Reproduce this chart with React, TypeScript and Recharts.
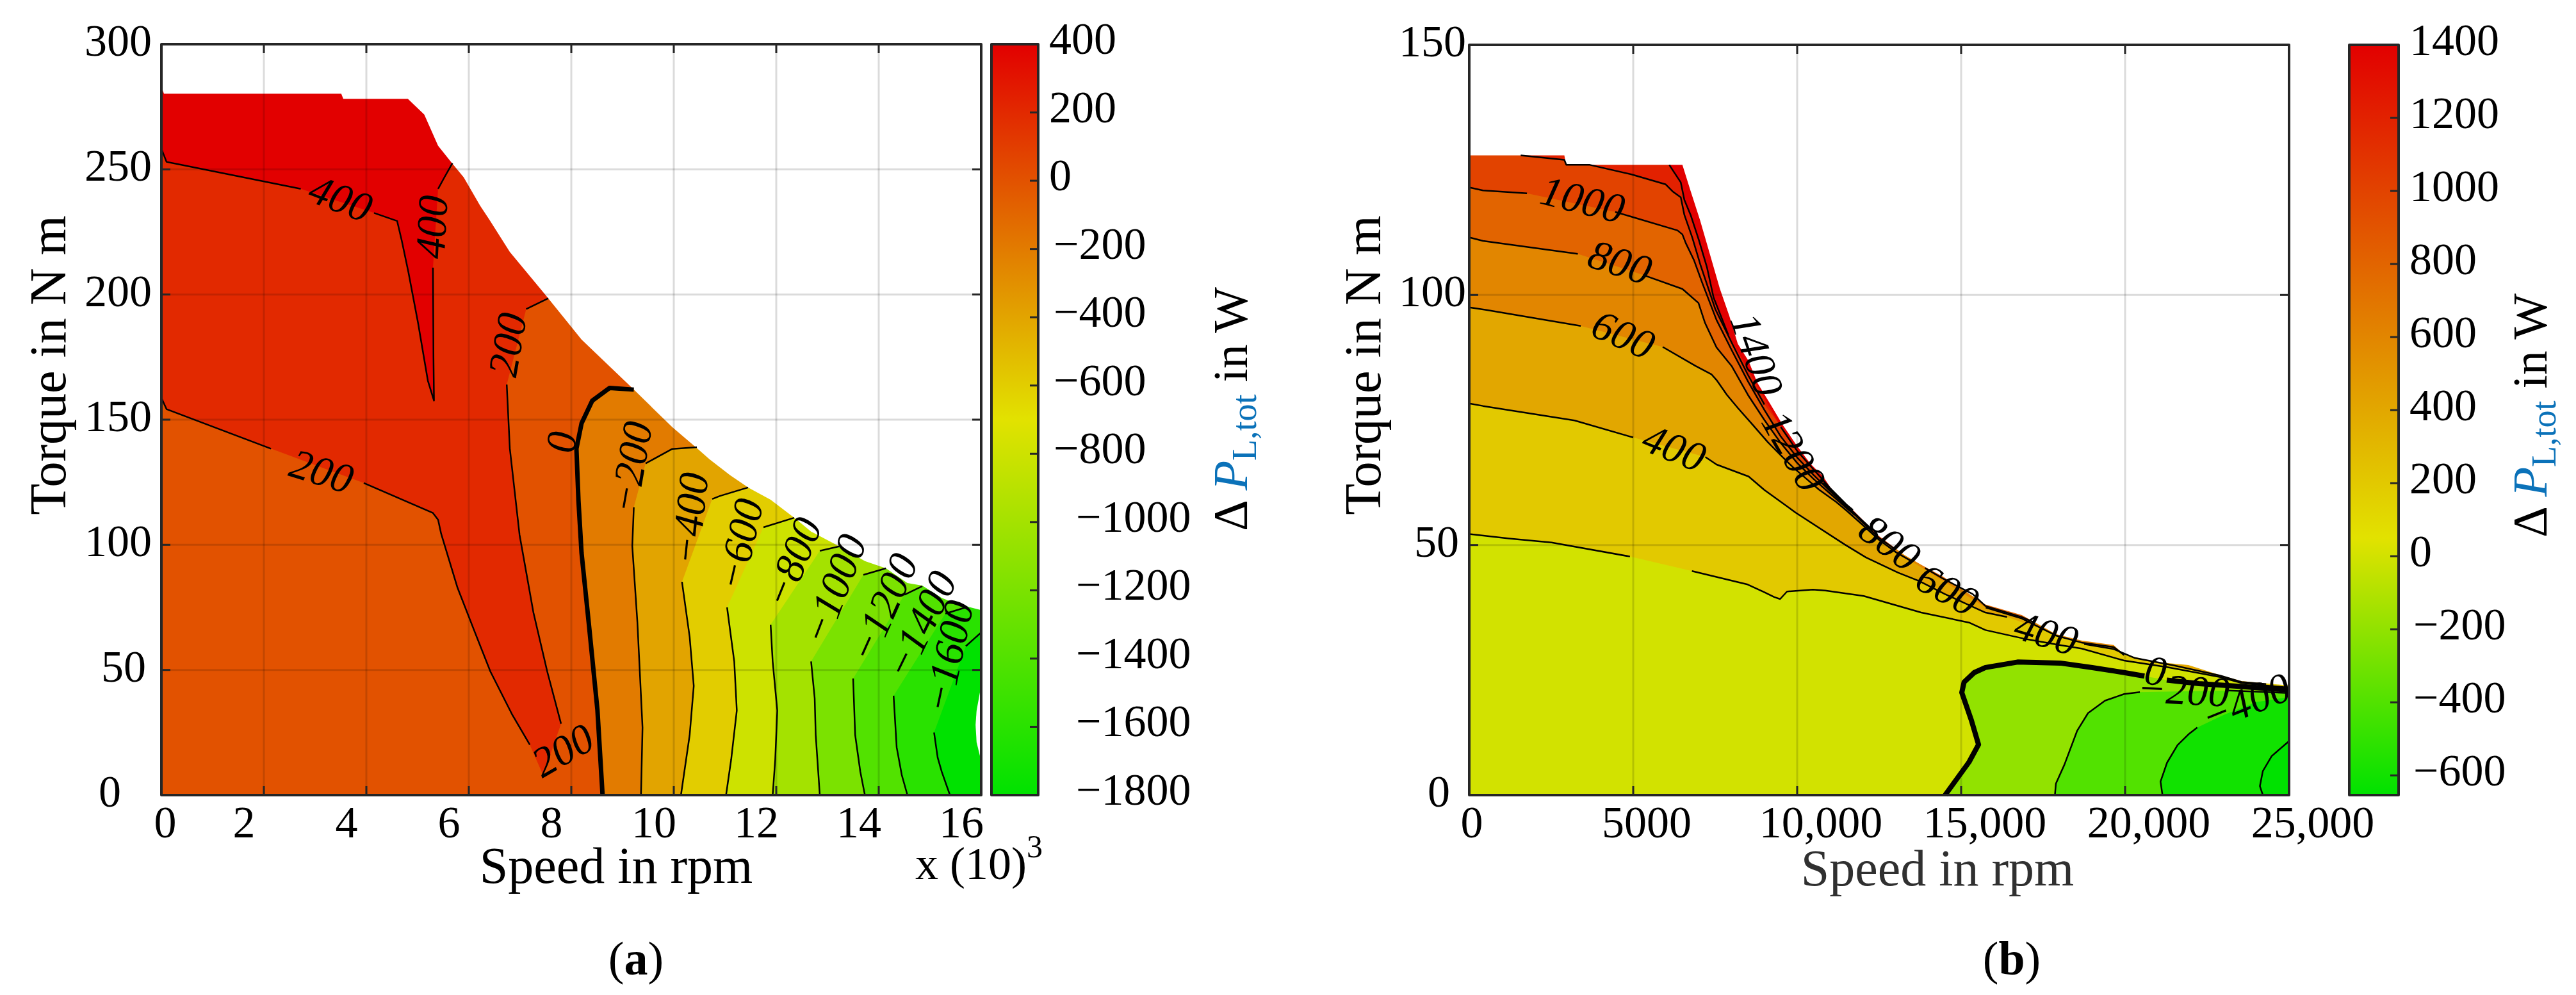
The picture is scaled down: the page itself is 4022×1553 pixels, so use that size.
import React from 'react';
import { ScatterChart, Scatter, XAxis, YAxis } from 'recharts';

type P = [number, number];
type Seg = P[];

const FONT = '"Liberation Serif", "Times New Roman", serif';
const BLUE = '#0b72b9';
const FRAME = '#262626';
const GRID = 'rgba(0,0,0,0.14)';

// ================= Panel (a): speed in 10^3 rpm, torque in N m =================
const xTicksA = [0, 2, 4, 6, 8, 10, 12, 14, 16];
const yTicksA = [0, 50, 100, 150, 200, 250, 300];
const cbTicksA = [400, 200, 0, -200, -400, -600, -800, -1000, -1200, -1400, -1600, -1800];
const xMaxA = 16;
const yMaxA = 300;
const cbMinA = -1800;
const cbMaxA = 400;

const envelopeA: Seg = [
  [0, 283], [0.05, 280.2], [3.51, 280.2], [3.55, 278.2], [4.81, 278.2], [5.13, 271.9],
  [5.4, 259.4], [5.67, 252.5], [5.9, 246.8], [6.22, 235.5], [6.41, 229.6], [6.8, 217],
  [7.49, 200], [8.2, 182], [9.22, 162], [9.975, 146.9], [10.43, 139], [10.7, 134.1],
  [11.1, 127.8], [11.45, 122.9], [11.89, 118], [12.39, 110.2], [12.68, 105.3], [13.23, 99.4],
  [13.73, 93.5], [14.14, 90.6], [14.56, 84.7], [14.85, 83.7], [15.23, 78.8], [15.52, 76.4], [16, 73.9],
];
const whiteSliverA: Seg = [[16, 41.6], [15.98, 41.6], [15.91, 33.8], [15.89, 28], [15.91, 21.1], [15.98, 15.2], [16, 15.2]];
const c400A: Seg[] = [
  [[0, 258.2], [0.1, 253], [2.72, 242.2]],
  [[4.15, 232.6], [4.6, 229.4], [4.69, 221.6], [4.82, 209], [5.01, 188.5], [5.2, 165.6], [5.32, 157.6], [5.31, 175], [5.3, 210.7]],
  [[5.4, 242.2], [5.52, 246.7], [5.68, 252.5]],
];
const c200A: Seg[] = [
  [[0, 158.7], [0.1, 154.2], [2.14, 138.4]],
  [[3.95, 124.7], [5.3, 112.7], [5.4, 110], [5.46, 104.4], [5.78, 82.8], [6.1, 66], [6.42, 49.4], [6.85, 32], [7.19, 20.1]],
  [[7.8, 28.5], [7.53, 49.4], [7.26, 73], [6.99, 104], [6.8, 138.5], [6.74, 164]],
  [[7.12, 194.2], [7.55, 198.5]],
];
const vBottomA: Seg = [[7.45, 8]];
const c0A: Seg[] = [[[9.22, 162], [8.75, 162.7], [8.41, 157.6], [8.2, 148.5], [8.1, 138.4], [8.14, 117.6], [8.2, 96.7], [8.34, 68.9], [8.51, 34], [8.61, 0]]];
const cm200A: Seg[] = [
  [[10.45, 139], [9.97, 138.3], [9.45, 132.5]],
  [[9.22, 115], [9.19, 99.5], [9.29, 69], [9.39, 27], [9.36, 0]],
];
const cm400A: Seg[] = [
  [[11.45, 122.9], [10.9, 119.5], [10.75, 118.3]],
  [[10.16, 85.2], [10.31, 63.2], [10.39, 43.6], [10.31, 24], [10.14, 0]],
];
const cm600A: Seg[] = [
  [[12.35, 110.8], [11.75, 107]],
  [[11.04, 75], [11.18, 53.4], [11.23, 33.8], [11.12, 14.2], [11.02, 0]],
];
const cm800A: Seg[] = [
  [[13.23, 99.4], [12.85, 97.6]],
  [[11.89, 68.1], [11.93, 53.4], [12.02, 33.8], [11.98, 14.2], [11.93, 0]],
];
const cm1000A: Seg[] = [
  [[14.14, 90.6], [13.7, 88]],
  [[12.68, 53.4], [12.75, 38.7], [12.77, 24], [12.85, 0]],
];
const cm1200A: Seg[] = [
  [[14.85, 83.5], [14.5, 80]],
  [[13.5, 46.6], [13.54, 24], [13.64, 9.4], [13.73, 0]],
];
const cm1400A: Seg[] = [
  [[15.73, 75.2], [15.3, 72.5]],
  [[14.29, 39.7], [14.35, 19.1], [14.45, 8], [14.56, 0]],
];
const cm1600A: Seg[] = [
  [[16, 65], [15.7, 59.5]],
  [[15.08, 25], [15.15, 15], [15.23, 9.3], [15.39, 0]],
];
const labelsA = [
  { x: 3.5, y: 238.5, t: '400' },
  { x: 5.27, y: 227, t: '400' },
  { x: 3.13, y: 129.5, t: '200' },
  { x: 6.75, y: 180, t: '200' },
  { x: 7.83, y: 18, t: '200' },
  { x: 7.8, y: 141, t: '0' },
  { x: 9.15, y: 131, t: '\u2212200' },
  { x: 10.3, y: 110.5, t: '\u2212400' },
  { x: 11.28, y: 100.2, t: '\u2212600' },
  { x: 12.31, y: 93, t: '\u2212800' },
  { x: 13.12, y: 82.3, t: '\u22121000' },
  { x: 14.08, y: 74.9, t: '\u22121200' },
  { x: 14.81, y: 68.1, t: '\u22121400' },
  { x: 15.35, y: 55.4, t: '\u22121600' },
];
const labelAnglesA = [21, -87, 17, -80, -30, -85, -80, -84, -77, -68, -69, -66, -64, -78];

// ================= Panel (b): speed in rpm, torque in N m =================
const xTicksB = [0, 5000, 10000, 15000, 20000, 25000];
const yTicksB = [0, 50, 100, 150];
const cbTicksB = [1400, 1200, 1000, 800, 600, 400, 200, 0, -200, -400, -600];
const xMaxB = 25000;
const yMaxB = 150;
const cbMinB = -654;
const cbMaxB = 1400;

const envelopeB: Seg = [
  [0, 127.9], [2900, 127.9], [2950, 126], [6500, 126], [6740, 121], [7040, 114.9], [7340, 108.1],
  [7640, 101.3], [7930, 95.8], [8190, 90.2], [8520, 86.8], [8780, 82.5], [9170, 78.3], [9560, 74],
  [10010, 69.7], [10400, 66.3], [10790, 63.7], [11180, 59.9], [11580, 57.8], [11970, 55.2],
  [12490, 51.8], [13270, 48], [13850, 45.8], [14440, 43.7], [15740, 38.1], [16850, 36],
  [17890, 32.2], [18670, 30.9], [19650, 30], [19970, 28.1], [20950, 26.6], [21930, 26],
  [22900, 24], [23550, 22.8], [25000, 21.9],
];
const c1400B: Seg[] = [
  [[6100, 126], [6250, 124.5], [6450, 122.5], [6560, 119], [6750, 116], [7000, 111], [7250, 105.5], [7450, 99.5], [7900, 92]],
  [[9500, 73.6], [10000, 68.8], [10500, 65.1], [11000, 61.4], [11500, 58.1], [11700, 57.0]],
];
const c1200B: Seg[] = [
  [[1570, 127.9], [2900, 127], [2960, 126], [3680, 126], [4950, 124.1], [5990, 122.1], [6200, 120.7], [6450, 119.5], [6560, 116], [6800, 111.5], [7050, 106], [7500, 97.2], [8000, 90.5], [8500, 84.0], [9000, 78.1]],
  [[10800, 62.5], [11000, 61.1], [11500, 57.9], [12000, 54.8], [12300, 53.0]],
];
const c1000B: Seg[] = [
  [[0, 121.5], [420, 120.9], [1760, 120.3]],
  [[4450, 116.6], [6350, 112.9], [6500, 112.1], [6600, 110.4], [6850, 107], [7100, 102.5], [7540, 95], [8000, 89], [8500, 82.7], [9000, 77.0], [9500, 71.7], [10000, 67.5], [10500, 64.0], [11000, 60.8], [11500, 57.7], [12000, 54.5], [12500, 51.4], [13000, 49.1]],
];
const c800B: Seg[] = [
  [[0, 111.5], [420, 110.8], [3310, 108.2]],
  [[5300, 104], [6500, 101.2], [6690, 100.1], [6990, 98.4], [7190, 94.4], [7540, 89.5], [8000, 85.8], [8500, 80.0], [9000, 75.0], [9500, 70.4], [10000, 66.4], [10500, 63.2], [11000, 60.3], [11500, 57.4], [11750, 56.0]],
  [[13900, 45.4], [14440, 43.3], [15350, 40.2], [15740, 37.8], [16850, 35.6], [17200, 34.6]],
];
const c600B: Seg[] = [
  [[0, 97.5], [520, 97], [3400, 93.8]],
  [[5900, 89.6], [6900, 85.8], [7390, 84.1], [7540, 83], [7860, 80], [8190, 77.4], [8650, 74], [9100, 70.6], [9490, 68], [9880, 65.5], [10270, 63.3], [10660, 61.1], [11190, 58.6], [11500, 56.9], [12000, 54.0], [12500, 51.0], [13000, 48.6], [13450, 46.9]],
  [[15750, 37.5], [16850, 35.3], [17890, 31.9], [18670, 30.5], [19650, 29.6], [19970, 28.0]],
];
const c400B: Seg[] = [
  [[0, 78.3], [420, 77.8], [3210, 74.9], [5000, 71.5]],
  [[7200, 67.6], [7540, 66.1], [8520, 63.7], [9000, 61], [9950, 56.5], [11450, 50.1], [12100, 47.5], [13070, 44.5], [13720, 42.8], [14500, 40.2], [15300, 37.8], [15740, 36.5], [16400, 35.6]],
  [[18750, 30.2], [19650, 29.2], [20300, 27.4], [21500, 25.9], [22900, 23.9], [23550, 22.6], [24300, 22.2]],
];
const c200B: Seg[] = [
  [[0, 52.2], [1210, 51.3], [2510, 50.5], [4900, 47.7]],
  [[6790, 44.8], [8490, 42.1], [8990, 40.6], [9300, 39.6], [9480, 39.2], [9690, 40.7], [10480, 41.1], [10860, 40.9], [12030, 39.8], [13780, 36.5], [15240, 34.5], [15740, 33], [16900, 31.3], [18000, 30.0], [18670, 29.3], [19970, 26.9], [21280, 25.6], [22900, 23.6], [23550, 22.4], [24300, 21.9], [25000, 21.5]],
];
const c0B: Seg[] = [
  [[14510, 0], [15240, 6.6], [15530, 10.1], [15310, 15], [15020, 20.5], [15090, 22.6], [15400, 24.5], [15740, 25.5], [16720, 26.6], [18020, 26.4], [19000, 25.5], [19970, 24.5], [20590, 23.8]],
  [[21270, 23.0], [22250, 22.3], [23550, 21.7], [25000, 21.0]],
];
const cm200B: Seg[] = [
  [[17860, 0], [17890, 2.3], [18150, 6.1], [18540, 12.9], [18870, 16.4], [19390, 18.9], [19970, 20.2], [20450, 20.6]],
  [[23150, 20.9], [25000, 20.4]],
];
const cm400B: Seg[] = [[[21140, 0], [21080, 2.7], [21280, 6.5], [21600, 10], [21960, 12.3], [22200, 13.5]]];
const cm400HiddenB: Seg = [[23000, 16], [24000, 18.6], [25000, 19.6]];
const cm600B: Seg[] = [[[24200, 0], [24110, 1.8], [24200, 4.8], [24470, 7.8], [25000, 10.8]]];
const labelsB = [
  { x: 3460, y: 119.1, t: '1000' },
  { x: 4600, y: 106.6, t: '800' },
  { x: 4700, y: 92.1, t: '600' },
  { x: 6250, y: 69.5, t: '400' },
  { x: 8780, y: 88.1, t: '1400' },
  { x: 9900, y: 68.8, t: '1200' },
  { x: 12830, y: 50.5, t: '800' },
  { x: 14580, y: 41.1, t: '600' },
  { x: 17600, y: 32.4, t: '400' },
  { x: 20930, y: 24.9, t: '0' },
  { x: 21780, y: 21.05, t: '\u2212200' },
  { x: 23680, y: 18.6, t: '\u2212400' },
];
const labelAnglesB = [14, 18, 24, 22, 71, 60, 37, 29, 17, 10, 3, -22];

// ---------------- helpers ----------------
const toXY = (pts: Seg) => pts.map(([x, y]) => ({ x, y }));
const EMPTY = () => <g />;
const flat = (segs: Seg[]): Seg => ([] as Seg).concat(...segs);
const aboveTop = (pts: Seg, yMax: number): Seg => [...pts, [pts[pts.length - 1][0], yMax], [pts[0][0], yMax]];
const belowRight = (pts: Seg, xMax: number, yMax: number): Seg => [...pts, [xMax, 0], [xMax, yMax], [pts[0][0], yMax]];
const rightClose = (pts: Seg, xMax: number): Seg => [...pts, [xMax, 0]];
const maskPoly = (env: Seg, yMax: number): Seg => [[env[0][0], yMax], ...env, [env[env.length - 1][0], yMax]];
const box = (x0: number, x1: number, y0: number, y1: number): Seg => [[x0, y0], [x1, y0], [x1, y1], [x0, y1]];

const poly = (key: string, pts: Seg, fill: string) => (
  <Scatter key={key} data={toXY(pts)} shape={EMPTY} line={{ fill, stroke: 'none' }} lineJointType="linearClosed" isAnimationActive={false} />
);
const stroke = (key: string, pts: Seg, width: number, color = '#000', closed = false) => (
  <Scatter key={key} data={toXY(pts)} shape={EMPTY}
    line={{ fill: 'none', stroke: color, strokeWidth: width, strokeLinejoin: 'round' }}
    lineJointType={closed ? 'linearClosed' : 'linear'} isAnimationActive={false} />
);
const lines = (key: string, segs: Seg[], width: number) => segs.map((s, i) => stroke(`${key}-${i}`, s, width));

const LabelShape = (p: any) => {
  const { cx, cy, payload } = p;
  return (
    <text x={cx} y={cy} transform={`rotate(${payload.r} ${cx} ${cy})`} textAnchor="middle" dominantBaseline="central"
      fontFamily={FONT} fontSize={66} fontStyle="italic" fill="#000">{payload.t}</text>
  );
};
const tickMark = (dx: number, dy: number) => (p: any) => (
  <line x1={p.cx} y1={p.cy} x2={p.cx + dx} y2={p.cy + dy} stroke={FRAME} strokeWidth={3} />
);
const marks = (key: string, pts: Seg, dx: number, dy: number) => (
  <Scatter key={key} data={toXY(pts)} shape={tickMark(dx, dy)} isAnimationActive={false} />
);
const fmtNeg = (v: number) => (v < 0 ? '\u2212' + Math.abs(v) : String(v));

// ---------------- tick label renderers ----------------
const xTickA = (p: any) => {
  const v = p.payload.value;
  const dx = v === 0 ? 6 : -31;
  return <text x={p.x + dx} y={p.y + 66} textAnchor="middle" fontFamily={FONT} fontSize={70} fill="#000">{v}</text>;
};
const yTickA = (p: any) => {
  const v = p.payload.value;
  const dx = v === 0 ? -63 : v === 50 ? -24 : -15;
  return <text x={p.x + dx} y={p.y + 18} textAnchor="end" fontFamily={FONT} fontSize={70} fill="#000">{v}</text>;
};
const xTickB = (p: any) => {
  const v = p.payload.value;
  const dx = v === 0 ? 4 : v === 5000 ? 21 : 37;
  const s = v >= 10000 ? v.toLocaleString('en-US') : String(v);
  return <text x={p.x + dx} y={p.y + 66} textAnchor="middle" fontFamily={FONT} fontSize={70} fill="#000">{s}</text>;
};
const yTickB = (p: any) => {
  const v = p.payload.value;
  const dx = v === 0 ? -30 : v === 50 ? -16 : -5;
  return <text x={p.x + dx} y={p.y + 18} textAnchor="end" fontFamily={FONT} fontSize={70} fill="#000">{v}</text>;
};
const cbTickA = (p: any) => {
  const v = p.payload.value;
  const dx = v >= 0 ? 17 : v >= -800 ? 24 : 59;
  return <text x={p.x + dx} y={p.y + 15} textAnchor="start" fontFamily={FONT} fontSize={70} fill="#000">{fmtNeg(v)}</text>;
};
const cbTickB = (p: any) => {
  const v = p.payload.value;
  const dx = v >= 0 ? 17 : 23;
  return <text x={p.x + dx} y={p.y + 16} textAnchor="start" fontFamily={FONT} fontSize={70} fill="#000">{fmtNeg(v)}</text>;
};

// ---------------- Panel (a) ----------------
function PanelA() {
  const bands: [Seg, string][] = [
    [box(0, xMaxA, 0, yMaxA), 'rgb(226,82,0)'],
    [aboveTop([...c200A[0], ...c200A[1], ...vBottomA, ...c200A[2], ...c200A[3]], yMaxA), 'rgb(226,41,0)'],
    [aboveTop(flat(c400A), yMaxA), 'rgb(226,0,0)'],
    [belowRight(flat(c0A), xMaxA, yMaxA), 'rgb(226,123,0)'],
    [belowRight(flat(cm200A), xMaxA, yMaxA), 'rgb(226,164,0)'],
    [belowRight(flat(cm400A), xMaxA, yMaxA), 'rgb(226,205,0)'],
    [belowRight(flat(cm600A), xMaxA, yMaxA), 'rgb(205,226,0)'],
    [belowRight(flat(cm800A), xMaxA, yMaxA), 'rgb(164,226,0)'],
    [belowRight(flat(cm1000A), xMaxA, yMaxA), 'rgb(123,226,0)'],
    [belowRight(flat(cm1200A), xMaxA, yMaxA), 'rgb(82,226,0)'],
    [belowRight(flat(cm1400A), xMaxA, yMaxA), 'rgb(41,226,0)'],
    [belowRight(flat(cm1600A), xMaxA, yMaxA), 'rgb(0,226,0)'],
  ];
  const labelData = labelsA.map((l, i) => ({ ...l, r: labelAnglesA[i] }));
  const innerX = xTicksA.slice(1, -1);
  const innerY = yTicksA.slice(1, -1);
  return (
    <ScatterChart width={1560} height={1553} margin={{ top: 69, right: 28, bottom: 212, left: 52 }}>
      <XAxis type="number" dataKey="x" domain={[0, xMaxA]} ticks={xTicksA} interval={0} height={100}
        tickSize={0} tickMargin={0} axisLine={false} tickLine={false} tick={xTickA} />
      <YAxis type="number" dataKey="y" domain={[0, yMaxA]} ticks={yTicksA} interval={0} width={200}
        tickSize={0} tickMargin={0} axisLine={false} tickLine={false} tick={yTickA} />
      {bands.map(([pts, c], i) => poly(`band-${i}`, pts, c))}
      {poly('mask', maskPoly(envelopeA, yMaxA), '#ffffff')}
      {poly('sliver', whiteSliverA, '#ffffff')}
      {innerX.map((v) => stroke(`gx-${v}`, [[v, 0], [v, yMaxA]], 3, GRID))}
      {innerY.map((v) => stroke(`gy-${v}`, [[0, v], [xMaxA, v]], 3, GRID))}
      {lines('c400', c400A, 2.5)}
      {lines('c200', c200A, 2.5)}
      {lines('c0', c0A, 7)}
      {lines('cm200', cm200A, 2.5)}
      {lines('cm400', cm400A, 2.5)}
      {lines('cm600', cm600A, 2.5)}
      {lines('cm800', cm800A, 2.5)}
      {lines('cm1000', cm1000A, 2.5)}
      {lines('cm1200', cm1200A, 2.5)}
      {lines('cm1400', cm1400A, 2.5)}
      {lines('cm1600', cm1600A, 2.5)}
      <Scatter key="labels" data={labelData} shape={LabelShape} isAnimationActive={false} />
      {marks('tb', innerX.map((v) => [v, 0] as P), 0, -14)}
      {marks('tt', innerX.map((v) => [v, yMaxA] as P), 0, 14)}
      {marks('tl', innerY.map((v) => [0, v] as P), 14, 0)}
      {marks('tr', innerY.map((v) => [xMaxA, v] as P), -14, 0)}
      {stroke('frame', box(0, xMaxA, 0, yMaxA), 4, FRAME, true)}
    </ScatterChart>
  );
}

// ---------------- Panel (b) ----------------
function PanelB() {
  const bands: [Seg, string][] = [
    [box(0, xMaxB, 0, yMaxB), 'rgb(210,226,0)'],
    [aboveTop(flat(c200B), yMaxB), 'rgb(226,201,0)'],
    [aboveTop(flat(c400B), yMaxB), 'rgb(226,167,0)'],
    [aboveTop(flat(c600B), yMaxB), 'rgb(226,134,0)'],
    [aboveTop(flat(c800B), yMaxB), 'rgb(226,100,0)'],
    [aboveTop(flat(c1000B), yMaxB), 'rgb(226,67,0)'],
    [aboveTop(flat(c1200B), yMaxB), 'rgb(226,33,0)'],
    [aboveTop(flat(c1400B), yMaxB), 'rgb(226,0,0)'],
    [rightClose(flat(c0B), xMaxB), 'rgb(146,226,0)'],
    [rightClose(flat(cm200B), xMaxB), 'rgb(82,226,0)'],
    [rightClose([...flat(cm400B), ...cm400HiddenB], xMaxB), 'rgb(17,226,0)'],
    [rightClose(flat(cm600B), xMaxB), 'rgb(0,226,0)'],
  ];
  const labelData = labelsB.map((l, i) => ({ ...l, r: labelAnglesB[i] }));
  const innerX = xTicksB.slice(1, -1);
  const innerY = yTicksB.slice(1, -1);
  return (
    <ScatterChart width={1700} height={1553} margin={{ top: 70, right: 166, bottom: 212, left: 54 }}>
      <XAxis type="number" dataKey="x" domain={[0, xMaxB]} ticks={xTicksB} interval={0} height={100}
        tickSize={0} tickMargin={0} axisLine={false} tickLine={false} tick={xTickB} />
      <YAxis type="number" dataKey="y" domain={[0, yMaxB]} ticks={yTicksB} interval={0} width={200}
        tickSize={0} tickMargin={0} axisLine={false} tickLine={false} tick={yTickB} />
      {bands.map(([pts, c], i) => poly(`band-${i}`, pts, c))}
      {poly('mask', maskPoly(envelopeB, yMaxB), '#ffffff')}
      {innerX.map((v) => stroke(`gx-${v}`, [[v, 0], [v, yMaxB]], 3, GRID))}
      {innerY.map((v) => stroke(`gy-${v}`, [[0, v], [xMaxB, v]], 3, GRID))}
      {lines('c1400', c1400B, 2.5)}
      {lines('c1200', c1200B, 2.5)}
      {lines('c1000', c1000B, 2.5)}
      {lines('c800', c800B, 2.5)}
      {lines('c600', c600B, 2.5)}
      {lines('c400', c400B, 2.5)}
      {lines('c200', c200B, 2.5)}
      {lines('c0', c0B, 8)}
      {lines('cm200', cm200B, 2.5)}
      {lines('cm400', cm400B, 2.5)}
      {lines('cm600', cm600B, 2.5)}
      <Scatter key="labels" data={labelData} shape={LabelShape} isAnimationActive={false} />
      {marks('tb', innerX.map((v) => [v, 0] as P), 0, -14)}
      {marks('tt', innerX.map((v) => [v, yMaxB] as P), 0, 14)}
      {marks('tl', innerY.map((v) => [0, v] as P), 14, 0)}
      {marks('tr', innerY.map((v) => [xMaxB, v] as P), -14, 0)}
      {stroke('frame', box(0, xMaxB, 0, yMaxB), 4, FRAME, true)}
    </ScatterChart>
  );
}

// ---------------- Colorbars ----------------
function Colorbar(props: { id: string; width: number; axisWidth: number; top: number; min: number; max: number; ticks: number[]; yellowAt: number; tick: any }) {
  const { id, width, axisWidth, top, min, max, ticks, yellowAt, tick } = props;
  const inner = ticks.filter((v) => v !== min && v !== max);
  return (
    <ScatterChart width={width} height={1553} margin={{ top, right: 0, bottom: 312, left: 8 }}>
      <defs>
        <linearGradient id={id} x1="0" y1="0" x2="0" y2="1">
          <stop offset="0" stopColor="rgb(226,0,0)" />
          <stop offset={yellowAt} stopColor="rgb(226,226,0)" />
          <stop offset="1" stopColor="rgb(0,226,0)" />
        </linearGradient>
      </defs>
      <XAxis type="number" dataKey="x" domain={[0, 1]} hide />
      <YAxis type="number" dataKey="y" orientation="right" domain={[min, max]} ticks={ticks} interval={0} width={axisWidth}
        tickSize={0} tickMargin={0} axisLine={false} tickLine={false} tick={tick} />
      {poly('grad', box(0, 1, min, max), `url(#${id})`)}
      {marks('cbt', inner.map((v) => [1, v] as P), -13, 0)}
      {stroke('cbframe', box(0, 1, min, max), 4, FRAME, true)}
    </ScatterChart>
  );
}

const T = (props: any) => <text fontFamily={FONT} fill="#000" {...props} />;

export default function App() {
  return (
    <div style={{ position: 'absolute', left: 0, top: 0, width: 4022, height: 1553, background: '#fff', overflow: 'hidden' }}>
      <div style={{ position: 'absolute', left: 0, top: 0 }}><PanelA /></div>
      <div style={{ position: 'absolute', left: 1540, top: 0 }}>
        <Colorbar id="gradA" width={380} axisWidth={299} top={69} min={cbMinA} max={cbMaxA} ticks={cbTicksA}
          yellowAt={(cbMaxA + 700) / (cbMaxA - cbMinA)} tick={cbTickA} />
      </div>
      <div style={{ position: 'absolute', left: 2040, top: 0 }}><PanelB /></div>
      <div style={{ position: 'absolute', left: 3660, top: 0 }}>
        <Colorbar id="gradB" width={362} axisWidth={277} top={70} min={cbMinB} max={cbMaxB} ticks={cbTicksB}
          yellowAt={(cbMaxB - 50) / (cbMaxB - cbMinB)} tick={cbTickB} />
      </div>
      <svg width={4022} height={1553} style={{ position: 'absolute', left: 0, top: 0, pointerEvents: 'none' }}>
        <T x={102} y={570} transform="rotate(-90 102 570)" textAnchor="middle" fontSize={80}>Torque in N m</T>
        <T x={2155} y={570} transform="rotate(-90 2155 570)" textAnchor="middle" fontSize={80}>Torque in N m</T>
        <T x={962} y={1378} textAnchor="middle" fontSize={80}>Speed in rpm</T>
        <T x={3025} y={1382} textAnchor="middle" fontSize={80} fill="#303030">Speed in rpm</T>
        <T x={1429} y={1372} fontSize={72}>x (10)<tspan fontSize={50} dy={-34}>3</tspan></T>
        <T x={993} y={1521} textAnchor="middle" fontSize={74}>(<tspan fontWeight="bold">a</tspan>)</T>
        <T x={3141} y={1521} textAnchor="middle" fontSize={74}>(<tspan fontWeight="bold">b</tspan>)</T>
        <T x={1947} y={829} transform="rotate(-90 1947 829)" fontSize={76}>
          {'\u0394 '}<tspan fill={BLUE} fontStyle="italic">P</tspan><tspan fill={BLUE} fontSize={54} dy={14}>L,tot</tspan><tspan dy={-14}>{' in W'}</tspan>
        </T>
        <T x={3976} y={839} transform="rotate(-90 3976 839)" fontSize={76}>
          {'\u0394 '}<tspan fill={BLUE} fontStyle="italic">P</tspan><tspan fill={BLUE} fontSize={54} dy={14}>L,tot</tspan><tspan dy={-14}>{' in W'}</tspan>
        </T>
      </svg>
    </div>
  );
}
